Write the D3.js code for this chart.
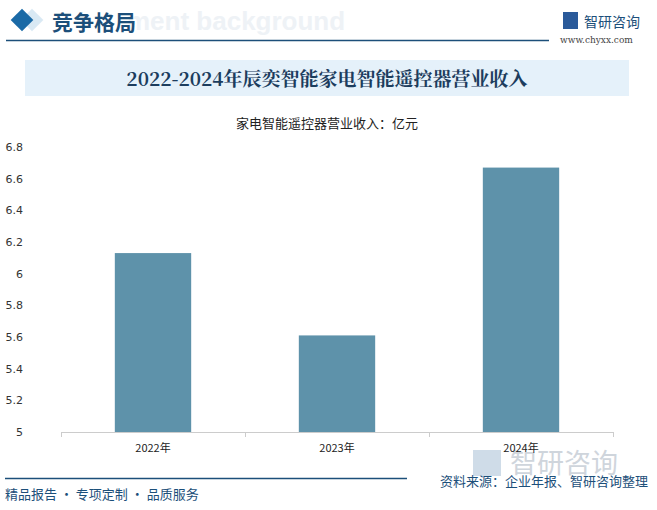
<!DOCTYPE html><html><head><meta charset="utf-8"><script src="https://cdn.jsdelivr.net/npm/d3@7"></script>
<style>body{margin:0;background:#fff}svg{display:block}</style></head><body><svg id="c" width="657" height="510"></svg>
<script>
const categories=["2022年","2023年","2024年"];
const values=[6.13,5.61,6.67];
const yTicks=[5,5.2,5.4,5.6,5.8,6,6.2,6.4,6.6,6.8];
const svg=d3.select("#c");
const F="'Noto Sans CJK SC',sans-serif";
svg.append("rect").attr("x",24).attr("y",12).attr("width",16).attr("height",16).attr("transform","rotate(45 32 20)").attr("fill","#c9dff0").attr("opacity",0.7);
svg.append("rect").attr("x",14).attr("y",12).attr("width",16).attr("height",16).attr("transform","rotate(45 22 20)").attr("fill","#1a6aa6");
svg.append("text").attr("x",127).attr("y",30).attr("font-size",26).attr("font-weight","bold").attr("fill","#eef2f6").attr("font-family","Arial").text("ment background");
svg.append("text").attr("x",52).attr("y",30).attr("font-size",21).attr("font-weight","bold").attr("fill","#1c4f7a").attr("font-family",F).text("竞争格局");
svg.append("line").attr("x1",6).attr("x2",549).attr("y1",40.5).attr("y2",40.5).attr("stroke","#1c4f7a").attr("stroke-width",1.5);
svg.append("rect").attr("x",563).attr("y",12).attr("width",15).attr("height",17).attr("fill","#2a5a9a");
svg.append("text").attr("x",584).attr("y",27).attr("font-size",14).attr("fill","#1c4f7a").attr("font-family",F).text("智研咨询");
svg.append("text").attr("x",560).attr("y",43).attr("font-size",9).attr("fill","#444").attr("font-family","'DejaVu Serif',serif").text("www.chyxx.com");
svg.append("rect").attr("x",25).attr("y",60).attr("width",604).attr("height",36).attr("fill","#e5f1fa");
svg.append("text").attr("x",327).attr("y",86).attr("text-anchor","middle").attr("font-size",19).attr("font-weight","bold").attr("fill","#1c3d5e").attr("font-family","'Noto Serif CJK SC','Noto Sans CJK SC',serif").text("2022-2024年辰奕智能家电智能遥控器营业收入");
svg.append("text").attr("x",327).attr("y",128).attr("text-anchor","middle").attr("font-size",13).attr("fill","#222").attr("font-family",F).text("家电智能遥控器营业收入：亿元");
const x=d3.scaleBand().domain(categories).range([61,613]).paddingInner(0.585).paddingOuter(0.2925);
const y=d3.scaleLinear().domain([5,6.8]).range([432,147]);
svg.append("text").attr("x",510).attr("y",473).attr("font-size",27).attr("fill","#cfd5dc").attr("font-family",F).text("智研咨询");
svg.append("rect").attr("x",473).attr("y",450).attr("width",28).attr("height",26).attr("fill","#cfdce8");
svg.selectAll(".bar").data(values).enter().append("rect").attr("x",(d,i)=>x(categories[i])).attr("width",x.bandwidth()).attr("y",d=>y(d)).attr("height",d=>y(5)-y(d)).attr("fill","#5e92aa");
svg.append("line").attr("x1",61).attr("x2",613).attr("y1",432.5).attr("y2",432.5).attr("stroke","#ccc");
[61,245,429,613].forEach(v=>svg.append("line").attr("x1",v+0.5).attr("x2",v+0.5).attr("y1",432).attr("y2",437).attr("stroke","#ccc"));
categories.forEach(c=>svg.append("text").attr("x",x(c)+x.bandwidth()/2).attr("y",452).attr("text-anchor","middle").attr("font-size",11).attr("fill","#222").attr("font-family",F).text(c));
yTicks.forEach(t=>svg.append("text").attr("x",23).attr("y",y(t)+4).attr("text-anchor","end").attr("font-size",11).attr("fill","#333").attr("font-family","'DejaVu Sans',sans-serif").text(d3.format("~g")(t)));
svg.append("line").attr("x1",5).attr("x2",407).attr("y1",478.5).attr("y2",478.5).attr("stroke","#1c4f7a").attr("stroke-width",1.5);
svg.append("text").attr("x",5).attr("y",499).attr("font-size",13).attr("fill","#1c4f7a").attr("font-family",F).text("精品报告 · 专项定制 · 品质服务");
svg.append("text").attr("x",648).attr("y",486).attr("text-anchor","end").attr("font-size",13).attr("fill","#1c4f7a").attr("font-family",F).text("资料来源：企业年报、智研咨询整理");
</script></body></html>
